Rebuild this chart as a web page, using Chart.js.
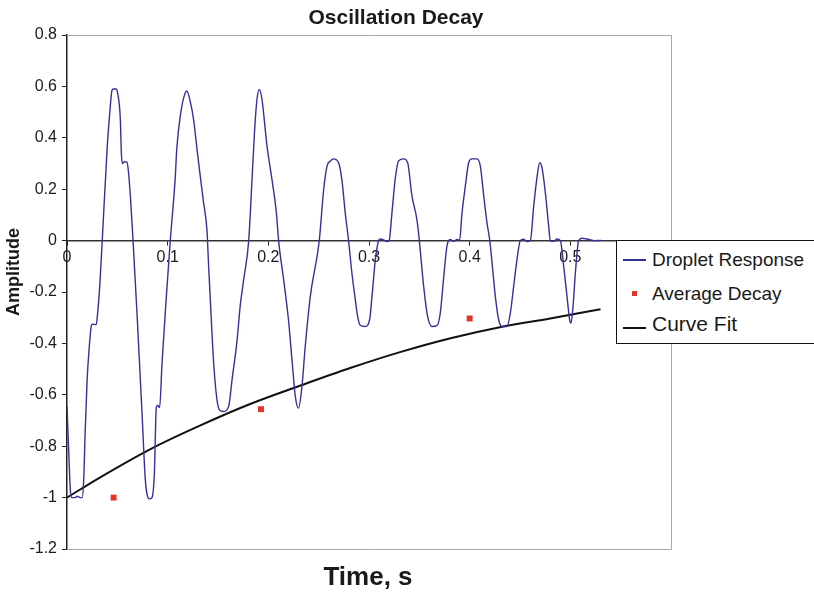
<!DOCTYPE html>
<html>
<head>
<meta charset="utf-8">
<script src="https://cdn.jsdelivr.net/npm/chart.js@4.4.1/dist/chart.umd.min.js"></script>
<style>
  html, body { margin: 0; padding: 0; background: #fff; }
  #wrap { position: relative; width: 814px; height: 594px; }
  #legend {
    position: absolute; left: 616px; top: 240px; width: 198px; height: 104px;
    box-sizing: border-box; border: 1.5px solid #111; border-right: none;
    background: #fff; font-family: "Liberation Sans", Arial, sans-serif; color: #1a1a1a;
  }
  #legend .mk { position: absolute; }
  #legend .tx { position: absolute; left: 35px; height: 24px; line-height: 24px; white-space: nowrap; }
</style>
</head>
<body>
<div id="wrap">
  <canvas id="decayChart" width="814" height="594"></canvas>
  <div id="legend">
    <div class="mk" style="left:6px; top:18px; width:23px; height:1.5px; background:#35309a;"></div>
    <div class="tx" style="top:7px; font-size:19px;">Droplet Response</div>
    <div class="mk" style="left:15px; top:50px; width:5px; height:5px; background:#e4352a;"></div>
    <div class="tx" style="top:41px; font-size:19px;">Average Decay</div>
    <div class="mk" style="left:6px; top:86px; width:23px; height:2px; background:#111;"></div>
    <div class="tx" style="top:71px; font-size:21px;">Curve Fit</div>
  </div>
</div>
<script>
// droplet response
const respTime = [0, 0.002, 0.0035, 0.005, 0.008, 0.010, 0.013, 0.015, 0.0166, 0.018, 0.020, 0.022, 0.024, 0.025, 0.029, 0.030, 0.0325, 0.035, 0.040, 0.043, 0.0447, 0.046, 0.049, 0.050, 0.053, 0.054, 0.055, 0.0575, 0.0596, 0.061, 0.063, 0.0656, 0.0695, 0.0745, 0.0778, 0.080, 0.082, 0.0844, 0.0868, 0.0887, 0.090, 0.092, 0.0944, 0.0987, 0.1026, 0.1076, 0.109, 0.113, 0.117, 0.119, 0.1225, 0.1258, 0.129, 0.1324, 0.1357, 0.139, 0.1407, 0.143, 0.1457, 0.149, 0.1516, 0.1556, 0.1606, 0.164, 0.169, 0.172, 0.1755, 0.1805, 0.1838, 0.1864, 0.1887, 0.191, 0.1937, 0.1987, 0.2036, 0.208, 0.2102, 0.2152, 0.220, 0.2235, 0.2268, 0.230, 0.2334, 0.2367, 0.2417, 0.2506, 0.255, 0.2583, 0.2616, 0.2648, 0.2698, 0.273, 0.2764, 0.2797, 0.283, 0.2864, 0.2887, 0.2913, 0.2963, 0.3006, 0.303, 0.3063, 0.3096, 0.3112, 0.3145, 0.3178, 0.320, 0.3228, 0.326, 0.3294, 0.3344, 0.3384, 0.3427, 0.3476, 0.350, 0.3543, 0.3582, 0.3625, 0.3675, 0.3708, 0.374, 0.3774, 0.3807, 0.384, 0.3874, 0.390, 0.3924, 0.3957, 0.399, 0.4023, 0.4073, 0.4106, 0.414, 0.4172, 0.420, 0.4232, 0.4255, 0.4288, 0.4321, 0.4371, 0.4404, 0.4437, 0.447, 0.4503, 0.4536, 0.457, 0.4603, 0.4636, 0.467, 0.4695, 0.4719, 0.4752, 0.4785, 0.4801, 0.4835, 0.4868, 0.4901, 0.4934, 0.4967, 0.4993, 0.5007, 0.5027, 0.505, 0.5083, 0.5116, 0.5166, 0.5232, 0.5305];
const respAmp = [-0.645, -0.85, -0.98, -1.0, -1.0, -0.995, -1.0, -1.0, -0.93, -0.75, -0.54, -0.42, -0.334, -0.325, -0.327, -0.30, -0.178, 0.0, 0.367, 0.523, 0.585, 0.59, 0.59, 0.58, 0.47, 0.34, 0.30, 0.307, 0.305, 0.27, 0.17, 0.0, -0.28, -0.67, -0.93, -0.995, -1.005, -1.0, -0.905, -0.65, -0.64, -0.65, -0.477, -0.217, 0.0, 0.25, 0.355, 0.497, 0.57, 0.582, 0.54, 0.47, 0.36, 0.25, 0.147, 0.043, -0.1, -0.28, -0.477, -0.62, -0.66, -0.665, -0.645, -0.54, -0.386, -0.256, -0.152, 0.0, 0.238, 0.432, 0.549, 0.588, 0.549, 0.367, 0.238, 0.108, 0.0, -0.152, -0.308, -0.464, -0.606, -0.652, -0.567, -0.41, -0.217, 0.0, 0.2, 0.29, 0.31, 0.318, 0.303, 0.238, 0.108, 0.0, -0.126, -0.23, -0.295, -0.33, -0.334, -0.308, -0.217, -0.074, 0.0, 0.006, 0.003, -0.004, 0.0, 0.108, 0.238, 0.31, 0.318, 0.303, 0.173, 0.082, 0.0, -0.178, -0.295, -0.334, -0.331, -0.282, -0.152, -0.022, 0.004, -0.003, 0.004, 0.001, 0.108, 0.212, 0.303, 0.318, 0.318, 0.29, 0.173, 0.069, 0.0, -0.126, -0.217, -0.308, -0.334, -0.334, -0.282, -0.178, -0.074, 0.0, 0.005, -0.004, 0.0, 0.134, 0.25, 0.303, 0.283, 0.186, 0.056, 0.0, -0.003, 0.006, 0.0, -0.1, -0.217, -0.308, -0.321, -0.256, -0.126, 0.0, 0.009, 0.006, 0.0, 0.001];

// average decay points
const avgTime = [0.0463, 0.1927, 0.4];
const avgAmp = [-1.0, -0.656, -0.303];

// curve fit
const fitTime = [0, 0.033, 0.083, 0.132, 0.182, 0.232, 0.282, 0.33, 0.381, 0.43, 0.48, 0.53];
const fitAmp = [-1.0, -0.921, -0.811, -0.72, -0.636, -0.564, -0.495, -0.435, -0.38, -0.337, -0.303, -0.267];

const xTicks = [0, 0.1, 0.2, 0.3, 0.4, 0.5, 0.6];
const xTickLabels = ['0', '0.1', '0.2', '0.3', '0.4', '0.5', '0.6'];
const yTicks = [-1.2, -1, -0.8, -0.6, -0.4, -0.2, 0, 0.2, 0.4, 0.6, 0.8];
const yTickLabels = ['-1.2', '-1', '-0.8', '-0.6', '-0.4', '-0.2', '0', '0.2', '0.4', '0.6', '0.8'];

const FONT = '"Liberation Sans", Arial, sans-serif';

const toPoints = (xs, ys) => xs.map((x, i) => ({ x: x, y: ys[i] }));

// grey frame round the plot area (left side is the y axis itself)
const framePlugin = {
    id: 'frame',
    beforeDatasetsDraw(chart) {
        const { ctx, chartArea: a } = chart;
        ctx.save();
        ctx.strokeStyle = '#a8a8a8';
        ctx.lineWidth = 1;
        ctx.beginPath();
        ctx.moveTo(a.left, a.top + 0.5);
        ctx.lineTo(a.right + 0.5, a.top + 0.5);
        ctx.lineTo(a.right + 0.5, a.bottom + 0.5);
        ctx.lineTo(a.left, a.bottom + 0.5);
        ctx.stroke();
        ctx.restore();
    }
};

// chart title and axis titles, placed where the original has them
const titlesPlugin = {
    id: 'titles',
    afterDraw(chart) {
        const ctx = chart.ctx;
        ctx.save();
        ctx.fillStyle = '#1a1a1a';
        ctx.textAlign = 'center';
        ctx.textBaseline = 'middle';
        ctx.font = 'bold 21px ' + FONT;
        ctx.fillText('Oscillation Decay', 396, 18);
        ctx.font = 'bold 26px ' + FONT;
        ctx.fillText('Time, s', 368, 578);
        ctx.translate(14, 272);
        ctx.rotate(-Math.PI / 2);
        ctx.font = 'bold 18px ' + FONT;
        ctx.fillText('Amplitude', 0, 0);
        ctx.restore();
    }
};

const ctx = document.querySelector('#decayChart').getContext('2d');

new Chart(ctx, {
    type: 'scatter',
    data: {
        datasets: [
            {
                label: 'Droplet Response',
                data: toPoints(respTime, respAmp),
                showLine: true,
                borderColor: '#35309a',
                borderWidth: 1.4,
                pointRadius: 0,
                cubicInterpolationMode: 'monotone'
            },
            {
                label: 'Average Decay',
                data: toPoints(avgTime, avgAmp),
                showLine: false,
                pointStyle: 'rect',
                pointRadius: 4.2,
                backgroundColor: '#e4352a',
                borderWidth: 0
            },
            {
                label: 'Curve Fit',
                data: toPoints(fitTime, fitAmp),
                showLine: true,
                borderColor: '#111',
                borderWidth: 2,
                pointRadius: 0,
                cubicInterpolationMode: 'monotone'
            }
        ]
    },
    options: {
        responsive: false,
        animation: false,
        layout: { padding: { top: 35, right: 143, bottom: 45, left: 0 } },
        plugins: {
            legend: { display: false },
            tooltip: { enabled: false }
        },
        scales: {
            x: {
                type: 'linear',
                min: 0,
                max: 0.6,
                position: { y: 0 },
                afterBuildTicks: scale => { scale.ticks = xTicks.map(v => ({ value: v })); },
                grid: { drawOnChartArea: false, tickLength: 4, color: '#222' },
                border: { color: '#333', width: 1.5 },
                ticks: {
                    padding: 3,
                    maxRotation: 0,
                    autoSkip: false,
                    color: '#1a1a1a',
                    font: { size: 16, family: FONT },
                    callback: (value, index) => xTickLabels[index]
                }
            },
            y: {
                min: -1.2,
                max: 0.8,
                afterFit: scale => { scale.width = 67; },
                afterBuildTicks: scale => { scale.ticks = yTicks.map(v => ({ value: v })); },
                grid: { drawOnChartArea: false, tickLength: 5, color: '#222' },
                border: { color: '#222', width: 1.5 },
                ticks: {
                    padding: 5,
                    color: '#1a1a1a',
                    font: { size: 16, family: FONT },
                    callback: (value, index) => yTickLabels[index]
                }
            }
        }
    },
    plugins: [framePlugin, titlesPlugin]
});
</script>
</body>
</html>
